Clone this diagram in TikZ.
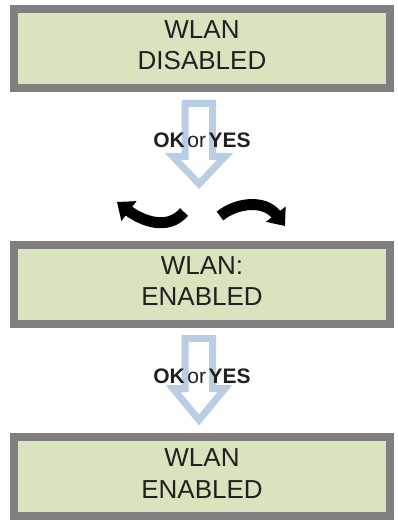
\documentclass[tikz,border=0pt]{standalone}
\usepackage{fontspec}
\setmainfont{Liberation Sans}
\usetikzlibrary{arrows.meta}
\definecolor{lcdgreen}{HTML}{D7E4BD}
\definecolor{lcdgray}{HTML}{808080}
\definecolor{hollowblue}{HTML}{B9CDE5}
\definecolor{inktext}{HTML}{231F20}
\begin{document}
\begin{tikzpicture}[x=1pt,y=-1pt,
  lcd/.style={rectangle, draw=lcdgray, fill=lcdgreen, line width=8pt,
    minimum width=375.5pt, minimum height=79.5pt, inner sep=0pt},
  lcdtext/.style={anchor=base, inner sep=0pt, text=inktext,
    font=\fontsize{26}{31}\selectfont},
  hollow/.style={draw=hollowblue, fill=white, line width=7pt, line join=miter},
  keytext/.style={anchor=base, inner sep=0pt, text=inktext,
    font=\fontsize{21}{25}\selectfont},
  swing/.style={line width=11pt, -{Triangle[width=24pt,length=15pt]}}]

\useasboundingbox (0,0) rectangle (398,529);

% LCD boxes
\node[lcd] (b1) at (201.75,48.75) {};
\node[lcdtext] (b1a) at (202,38.5) {WLAN};
\node[lcdtext] (b1b) at (202,70) {DISABLED};

\node[lcd] (b2) at (201.75,284.25) {};
\node[lcdtext] (b2a) at (202,274) {WLAN:};
\node[lcdtext] (b2b) at (202,305) {ENABLED};

\node[lcd] (b3) at (201.75,476.25) {};
\node[lcdtext] (b3a) at (202,466) {WLAN};
\node[lcdtext] (b3b) at (202,498) {ENABLED};

% hollow arrows
\draw[hollow] (185,103.5) -- (212.5,103.5) -- (212.5,156.5) -- (225,156.5)
  -- (199,184) -- (173,156.5) -- (185,156.5) -- cycle;
\node[keytext] (k1) at (202,147.5)
  {\textbf{OK}\kern2.5pt or\kern2.5pt\textbf{YES}};

\draw[hollow] (185,338.5) -- (212.5,338.5) -- (212.5,388.5) -- (225,388.5)
  -- (199,420) -- (173,388.5) -- (185,388.5) -- cycle;
\node[keytext] (k2) at (202,383.3)
  {\textbf{OK}\kern2.5pt or\kern2.5pt\textbf{YES}};

% curved black arrows
\coordinate (l0) at (184,212);
\coordinate (l1) at (117,202);
\draw[swing] (l0) .. controls (168,231) and (142,221) .. (l1);

\coordinate (r0) at (220,216);
\coordinate (r1) at (285,226);
\draw[swing] (r0) .. controls (236,203) and (264,199) .. (r1);
\end{tikzpicture}
\end{document}
